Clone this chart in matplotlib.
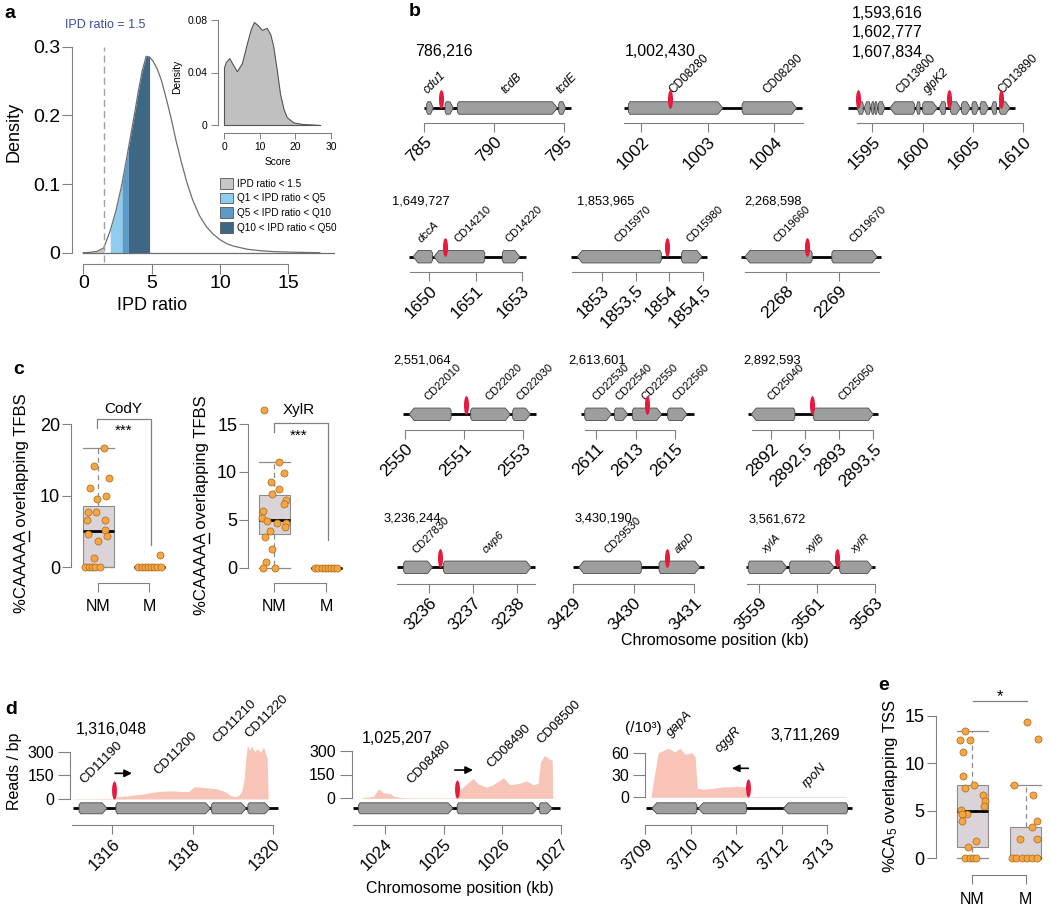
import numpy as np
import matplotlib
matplotlib.use("Agg")
import matplotlib.pyplot as plt
from matplotlib.patches import Polygon, Patch
from matplotlib.lines import Line2D
from matplotlib.path import Path

plt.rcParams['font.family'] = ['Liberation Sans', 'DejaVu Sans']
plt.rcParams['mathtext.fontset'] = 'custom'
plt.rcParams['mathtext.rm'] = 'Liberation Sans'
plt.rcParams['mathtext.it'] = 'Liberation Sans:italic'

# ---------------- panel a: IPD ratio density ----------------
ipd_x = [0, 0.5, 1.0, 1.5, 1.97, 2.4, 2.83, 3.3, 3.7, 4.0, 4.3, 4.6, 4.85, 5.1, 5.4, 5.7,
         6.0, 6.4, 6.8, 7.2, 7.6, 8.0, 8.5, 9.0, 9.5, 10.0, 10.5, 11.0, 12.0, 13.0, 14.0, 15.5, 17.3]
ipd_d = [0, 0.0005, 0.002, 0.007, 0.032, 0.062, 0.100, 0.152, 0.197, 0.232, 0.264, 0.286, 0.285,
         0.279, 0.268, 0.252, 0.230, 0.198, 0.162, 0.130, 0.101, 0.077, 0.054, 0.038, 0.027, 0.019,
         0.013, 0.0095, 0.005, 0.0028, 0.0015, 0.0006, 0]
ipd_cut = 1.5
q_bounds = [1.97, 2.83, 3.3, 4.85]
score_x = [0, 0.5, 1.5, 2.5, 3.6, 5.0, 6.4, 7.5, 8.4, 9.5, 10.6, 12.0, 13.0, 13.8, 14.8, 15.7,
           16.7, 17.6, 19.4, 22.0, 27.0]
score_d = [0.044, 0.048, 0.051, 0.046, 0.041, 0.047, 0.062, 0.073, 0.0785, 0.076, 0.0725, 0.074,
           0.069, 0.060, 0.042, 0.024, 0.012, 0.006, 0.002, 0.0008, 0]
a_legend = ['IPD ratio < 1.5', 'Q1 < IPD ratio < Q5', 'Q5 < IPD ratio < Q10', 'Q10 < IPD ratio < Q50']

# ---------------- panel b: gene tracks ----------------
b_titles = ['786,216', '1,002,430', '1,593,616\n1,602,777\n1,607,834',
            '1,649,727', '1,853,965', '2,268,598',
            '2,551,064', '2,613,601', '2,892,593',
            '3,236,244', '3,430,190', '3,561,672']
b_ticks = [[785, 790, 795], [1002, 1003, 1004], [1595, 1600, 1605, 1610],
           [1650, 1651, 1652], [1853, 1853.5, 1854, 1854.5], [2268, 2269],
           [2550, 2551, 2552], [2611, 2613, 2615], [2892, 2892.5, 2893, 2893.5],
           [3236, 3237, 3238], [3429, 3430, 3431], [3559, 3561, 3563]]
b_ticklabels = [['785', '790', '795'], ['1002', '1003', '1004'], ['1595', '1600', '1605', '1610'],
                ['1650', '1651', '1653'], ['1853', '1853,5', '1854', '1854,5'], ['2268', '2269'],
                ['2550', '2551', '2553'], ['2611', '2613', '2615'], ['2892', '2892,5', '2893', '2893,5'],
                ['3236', '3237', '3238'], ['3429', '3430', '3431'], ['3559', '3561', '3563']]
b_genes = [
    [(785.17, 785.64), (786.48, 787.07), (787.36, 794.50), (794.60, 795.10)],
    [(1001.81, 1003.23), (1003.52, 1004.34)],
    [(1593.47, 1594.10), (1594.19, 1594.78), (1594.87, 1595.17), (1595.26, 1595.53), (1595.59, 1596.25),
     (1596.74, 1599.19), (1599.35, 1599.74), (1600.00, 1601.47), (1601.64, 1602.29), (1602.78, 1603.76),
     (1603.86, 1604.74), (1604.90, 1605.56), (1605.72, 1606.54), (1606.80, 1607.35), (1607.62, 1608.67)],
    [(1649.65, 1650.07), (1650.10, 1651.20), (1651.58, 1651.96)],
    [(1852.64, 1853.88), (1854.18, 1854.48)],
    [(2267.23, 2268.49), (2268.86, 2269.71)],
    [(2550.07, 2550.78), (2551.11, 2551.78), (2551.82, 2552.12)],
    [(2610.43, 2611.78), (2611.93, 2612.61), (2612.84, 2614.33), (2614.63, 2615.61)],
    [(2891.71, 2892.35), (2892.62, 2893.50)],
    [(3235.42, 3236.08), (3236.33, 3238.33)],
    [(3429.10, 3430.13), (3430.42, 3431.09)],
    [(3558.62, 3559.95), (3560.04, 3561.59), (3561.78, 3562.91)],
]
b_strands = [[1, 1, 1, 1], [1, 1], [-1, -1, -1, 1, 1, -1, -1, 1, -1, 1, 1, 1, 1, -1, 1],
             [-1, -1, 1], [-1, 1], [-1, 1], [-1, 1, 1], [1, 1, 1, 1], [-1, 1], [1, 1], [-1, 1], [1, 1, 1]]
b_names = [['cdu1', '', 'tcdB', 'tcdE'], ['CD08280', 'CD08290'],
           ['', '', '', '', '', 'CD13800', '', 'glpK2', '', '', '', '', '', '', 'CD13890'],
           ['dccA', 'CD14210', 'CD14220'], ['CD15970', 'CD15980'], ['CD19660', 'CD19670'],
           ['CD22010', 'CD22020', 'CD22030'], ['CD22530', 'CD22540', 'CD22550', 'CD22560'],
           ['CD25040', 'CD25050'], ['CD27830', 'cwp6'], ['CD29530', 'atpD'], ['xylA', 'xylB', 'xylR']]
b_marks = [[786.22], [1002.43], [1593.6, 1602.6, 1607.75], [1650.35], [1853.97], [2268.40],
           [2551.03], [2613.58], [2892.60], [3236.24], [3430.55], [3561.68]]
b_backbone = [(785.0, 795.5), (1001.75, 1004.42), (1592.6, 1609.2), (1649.57, 1652.1),
              (1852.55, 1854.55), (2267.16, 2269.79), (2549.97, 2552.22), (2610.25, 2615.97),
              (2891.67, 2893.57), (3235.28, 3238.42), (3429.0, 3431.16), (3558.53, 3563.0)]
b_axis = [(785, 795), (1001.75, 1004.44), (1593.47, 1610), (1649.59, 1652), (1852.56, 1854.5),
          (2267.24, 2269.74), (2550, 2552), (2610.43, 2615), (2891.72, 2893.5),
          (3235.28, 3238.42), (3429, 3431), (3558.56, 3563)]

# ---------------- panel c: TFBS overlap ----------------
c_groups = ['NM', 'M']
cody_q1, cody_med, cody_q3, cody_lo, cody_hi = [0, 0], [5.0, 0], [8.55, 0], [0, 0], [16.7, 0]
cody_nm = [16.7, 14.2, 12.5, 11.0, 10.0, 9.5, 7.7, 7.7, 6.6, 6.6, 5.2, 4.7, 4.3, 3.7, 1.3, 0, 0, 0, 0, 0]
cody_nm_jit = [0.11, -0.08, 0.21, -0.17, 0.15, -0.02, -0.21, -0.05, -0.22, 0.13, 0.13, -0.21, 0.17,
               0.0, -0.08, -0.26, -0.19, -0.13, -0.06, 0.03]
cody_m = [1.7, 0, 0, 0, 0, 0, 0, 0, 0]
cody_m_jit = [0.2, -0.22, -0.15, -0.09, -0.03, 0.03, 0.09, 0.15, 0.22]
xylr_q1, xylr_med, xylr_q3, xylr_lo, xylr_hi = [3.5, 0], [5.0, 0], [7.6, 0], [0, 0], [11.0, 0]
xylr_nm = [16.5, 11.0, 9.9, 8.9, 8.2, 7.7, 7.1, 6.6, 5.9, 5.2, 4.9, 4.7, 4.7, 4.3, 3.8, 3.2, 1.9, 0.6, 0, 0]
xylr_nm_jit = [-0.2, 0.09, 0.18, -0.07, 0.09, -0.05, 0.23, 0.18, -0.22, -0.24, -0.14, 0.05, 0.23,
               0.21, -0.09, -0.18, -0.05, -0.16, -0.21, 0.02]
xylr_m = [0, 0, 0, 0, 0, 0, 0, 0]
xylr_m_jit = [-0.21, -0.15, -0.09, -0.03, 0.03, 0.09, 0.15, 0.21]

# ---------------- panel d: RNA-seq coverage ----------------
d_titles = ['1,316,048', '1,025,207', '3,711,269']
d1_cov_x = [1315.03, 1315.5, 1316.0, 1316.05, 1316.1, 1316.3, 1316.5, 1316.7, 1316.9, 1317.1, 1317.3,
            1317.5, 1317.7, 1317.9, 1318.05, 1318.2, 1318.4, 1318.6, 1318.8, 1318.95, 1319.05, 1319.15,
            1319.22, 1319.28, 1319.33, 1319.37, 1319.42, 1319.48, 1319.55, 1319.62, 1319.7, 1319.77,
            1319.82, 1319.86, 1319.89]
d1_cov_y = [2, 3, 4, 12, 15, 17, 24, 30, 38, 46, 50, 52, 48, 47, 78, 75, 70, 65, 48, 22, 14, 22, 45,
            110, 260, 340, 310, 335, 300, 320, 295, 330, 290, 260, 0]
d2_cov_x = [1023.6, 1023.8, 1023.89, 1023.97, 1024.09, 1024.14, 1024.26, 1024.43, 1024.8, 1025.2,
            1025.22, 1025.28, 1025.39, 1025.5, 1025.59, 1025.73, 1025.84, 1026.02, 1026.13, 1026.3,
            1026.41, 1026.53, 1026.61, 1026.65, 1026.72, 1026.81, 1026.85, 1026.86]
d2_cov_y = [5, 12, 60, 35, 30, 15, 5, 3, 3, 3, 20, 55, 90, 125, 90, 70, 85, 130, 85, 95, 110, 85, 95,
            230, 270, 245, 240, 0]
d3_cov_x = [3709.13, 3709.18, 3709.29, 3709.37, 3709.51, 3709.66, 3709.77, 3709.88, 3710.03, 3710.10,
            3710.15, 3710.28, 3710.5, 3710.72, 3710.87, 3711.01, 3711.16, 3711.23, 3711.25, 3713.4, 3713.42]
d3_cov_y = [0, 20, 60, 62, 66, 61, 66, 58, 60, 55, 12, 11, 12, 14, 14, 15, 14, 14, 0.8, 0.8, 0]
d_cov_x = [d1_cov_x, d2_cov_x, d3_cov_x]
d_cov_y = [d1_cov_y, d2_cov_y, d3_cov_y]
d_genes = [[(1315.17, 1315.87), (1316.09, 1318.45), (1318.47, 1319.34), (1319.38, 1319.93)],
           [(1023.55, 1025.16), (1025.23, 1026.60), (1026.63, 1026.85)],
           [(3709.15, 3710.14), (3710.17, 3711.23), (3712.04, 3713.45)]]
d_strands = [[1, 1, 1, 1], [1, 1, 1], [-1, -1, -1]]
d_names = [['CD11190', 'CD11200', 'CD11210', 'CD11220'], ['CD08480', 'CD08490', 'CD08500'],
           ['gapA', 'cggR', 'rpoN']]
d_label_xy = [[(1315.35, 82), (1317.2, 141), (1318.67, 342), (1319.46, 374)],
              [(1024.48, 75), (1025.85, 180), (1026.7, 330)],
              [(3709.62, 79), (3710.68, 57), (3712.6, 10)]]
d_marks = [[1316.05], [1025.22], [3711.27]]
d_arrows = [(1316.07, 1316.49, 163), (1025.19, 1025.50, 178), (3711.27, 3710.91, 39)]
d_backbone = [(1315.03, 1320.12), (1023.45, 1026.98), (3709.02, 3713.55)]
d_axis = [(1315.0, 1320), (1023.45, 1027), (3709, 3713)]
d_ticks = [[1316, 1318, 1320], [1024, 1025, 1026, 1027], [3709, 3710, 3711, 3712, 3713]]
d_yticks = [[0, 150, 300], [0, 150, 300], [0, 30, 60]]

# ---------------- panel e: TSS overlap ----------------
tss_q1, tss_med, tss_q3, tss_lo, tss_hi = [1.22, 0], [5.0, 0], [7.7, 3.26], [0, 0], [13.4, 7.7]
tss_nm = [13.4, 12.5, 12.5, 11.2, 8.7, 7.7, 7.4, 6.7, 6.0, 5.5, 5.1, 4.7, 4.7, 3.9, 1.8, 1.2, 0, 0, 0, 0]
tss_nm_jit = [-0.13, -0.22, -0.04, -0.18, -0.18, 0.04, -0.13, 0.21, 0.24, 0.22, -0.21, -0.1, -0.2,
              -0.2, 0.07, -0.08, -0.13, -0.04, 0.02, 0.08]
tss_m = [14.4, 12.6, 7.7, 6.7, 3.9, 3.3, 2.0, 2.0, 0, 0, 0, 0, 0, 0]
tss_m_jit = [0.03, 0.23, -0.21, 0.15, 0.21, 0.13, -0.1, 0.21, -0.26, -0.17, -0.07, 0.02, 0.12, 0.21]

# ---------------- styling ----------------
AX_GREY = '#808080'
GENE_FC = '#9c9f9e'
GENE_EC = '#4a4a4a'
RED = '#e8193c'
COV = '#f8c4b8'
BOX_FC = '#dad4d9'
BOX_EC = '#8c8c8c'
DOT_FC = '#f5a541'
DOT_EC = '#a86a1f'
A_COLS = ['#c6c6c6', '#8fcdee', '#5b9bc9', '#3e6784']

W, H = 1050, 909
fig = plt.figure(figsize=(W / 100, H / 100), dpi=100)

_u = Path.unit_circle()
MARK = Path(_u.vertices * [0.27, 1.0], _u.codes)


def add_px(x0, y0, x1, y1):
    ax = fig.add_axes([x0 / W, 1 - y1 / H, (x1 - x0) / W, (y1 - y0) / H])
    ax.patch.set_alpha(0)
    return ax


def place(box, xref, yref):
    # put an axes on a pixel box so that reference values land on reference pixels
    x0, y0, x1, y1 = box
    ax = add_px(x0, y0, x1, y1)
    (xa, pxa), (xb, pxb) = xref
    sx = (pxb - pxa) / (xb - xa)
    ax.set_xlim(xa + (x0 - pxa) / sx, xa + (x1 - pxa) / sx)
    (ya, pya), (yb, pyb) = yref
    sy = (pyb - pya) / (yb - ya)
    ax.set_ylim(ya + (y1 - pya) / sy, ya + (y0 - pya) / sy)
    return ax, sx, sy


def ftext(x, y, s, **kw):
    kw.setdefault('va', 'center')
    return fig.text(x / W, 1 - y / H, s, **kw)


def underline_last_char(txt, prefix, ch):
    # underline one character of a 90-degree rotated figure text
    fig.canvas.draw()
    r = fig.canvas.get_renderer()
    bb = txt.get_window_extent(r)
    fp = txt.get_fontproperties()
    w0, _, _ = r.get_text_width_height_descent(prefix, fp, ismath=False)
    w1, _, d = r.get_text_width_height_descent(prefix + ch, fp, ismath=False)
    x = bb.x1 - d * 0.55
    fig.add_artist(Line2D([x / W, x / W], [(bb.y0 + w0 + 0.5) / H, (bb.y0 + w1 - 0.5) / H],
                          transform=fig.transFigure, color='black', lw=1.0))


def draw_track(ax, genes, strands, names, backbone, marks, ppk, yc, h, mark_y, mark_ms,
               label_xy=None, label_y=None, fs=8):
    ax.plot(backbone, [yc, yc], color='black', lw=2, zorder=1, solid_capstyle='butt')
    tip = 5 / ppk
    bev = 1.5 / ppk
    for k, ((x0, x1), s, nm) in enumerate(zip(genes, strands, names)):
        t = min(tip, 0.4 * (x1 - x0))
        b = min(bev, 0.15 * (x1 - x0))
        if s > 0:
            pts = [(x0, yc - 0.3 * h), (x0 + b, yc - h / 2), (x1 - t, yc - h / 2), (x1, yc),
                   (x1 - t, yc + h / 2), (x0 + b, yc + h / 2), (x0, yc + 0.3 * h)]
        else:
            pts = [(x1, yc - 0.3 * h), (x1 - b, yc - h / 2), (x0 + t, yc - h / 2), (x0, yc),
                   (x0 + t, yc + h / 2), (x1 - b, yc + h / 2), (x1, yc + 0.3 * h)]
        ax.add_patch(Polygon(pts, closed=True, fc=GENE_FC, ec=GENE_EC, lw=0.6, zorder=2, clip_on=False))
        if nm:
            lx, ly = label_xy[k] if label_xy else ((x0 + x1) / 2, label_y)
            ax.text(lx, ly, nm, rotation=45, rotation_mode='anchor', ha='left', va='bottom',
                    fontsize=fs, style='normal' if nm.startswith('CD') else 'italic')
    ax.plot(marks, [mark_y] * len(marks), ls='none', marker=MARK, ms=mark_ms, color=RED,
            mec='none', zorder=3, clip_on=False)


def rotate_xlabels(ax):
    for lb in ax.get_xticklabels():
        lb.set_rotation(45)
        lb.set_ha('right')
        lb.set_va('top')
        lb.set_rotation_mode('anchor')


def track_xaxis(ax, ticks, labels, bounds, fs):
    for sp in ['left', 'top', 'right']:
        ax.spines[sp].set_visible(False)
    ax.spines['bottom'].set_bounds(*bounds)
    ax.spines['bottom'].set_color(AX_GREY)
    ax.spines['bottom'].set_linewidth(0.8)
    ax.set_yticks([])
    ax.set_xticks(ticks, labels)
    ax.tick_params(axis='x', direction='out', length=6.5, width=0.8, color=AX_GREY,
                   labelsize=fs, pad=1.5)
    rotate_xlabels(ax)


def r_spines(ax, left_bounds, bottom_bounds):
    for sp in ['top', 'right']:
        ax.spines[sp].set_visible(False)
    ax.spines['left'].set_bounds(*left_bounds)
    ax.spines['bottom'].set_bounds(*bottom_bounds)
    for sp in ['left', 'bottom']:
        ax.spines[sp].set_color(AX_GREY)
        ax.spines[sp].set_linewidth(0.8)


# ================= panel a =================
ax, sx, sy = place((71.7, 20, 335, 264.3), ((0, 83.3), (15, 288.3)), ((0, 252.7), (0.3, 46.7)))
ix = np.array(ipd_x)
idd = np.array(ipd_d)
ax.fill_between(ix, idd, where=ix <= ipd_cut, color=A_COLS[0], lw=0)
for k in range(3):
    m = (ix >= q_bounds[k]) & (ix <= q_bounds[k + 1])
    ax.fill_between(ix, idd, where=m, color=A_COLS[k + 1], lw=0)
ax.plot(ix, idd, color='#6e6e6e', lw=0.9)
ax.plot([0, ax.get_xlim()[1]], [0, 0], color='#6e6e6e', lw=0.9)
ax.plot([ipd_cut, ipd_cut], [-0.014, 0.3], color='#a0a0a0', lw=1.0, ls=(0, (5, 3)), clip_on=False)
r_spines(ax, (0, 0.3), (0, 15))
ax.set_yticks([0, 0.1, 0.2, 0.3], ['0', '0.1', '0.2', '0.3'])
ax.set_xticks([0, 5, 10, 15])
ax.tick_params(axis='both', direction='out', length=7, width=0.8, color=AX_GREY, labelsize=14, pad=1)
ax.legend(handles=[Patch(fc=c, ec='#555555', lw=0.6, label=l) for c, l in zip(A_COLS, a_legend)],
          loc='upper left', bbox_to_anchor=(220 / W, 1 - 177.8 / H), bbox_transform=fig.transFigure,
          frameon=False, fontsize=7.2, handlelength=1.3, handleheight=1.3, handletextpad=0.4,
          labelspacing=0.38, borderpad=0, borderaxespad=0)
ftext(14, 132, 'Density', fontsize=13, rotation=90, ha='center')
ftext(152, 305, 'IPD ratio', fontsize=13, ha='center')
ftext(105, 25, 'IPD ratio = 1.5', fontsize=9, color='#3b4ba0', ha='center')

# inset
ax, sx, sy = place((218.3, 10, 335, 133.3), ((0, 224), (30, 331)), ((0, 125), (0.08, 20)))
ax.fill_between(score_x, score_d, color='#c0c0c0', ec='#555555', lw=0.8)
r_spines(ax, (0, 0.08), (0, 30))
ax.set_yticks([0, 0.04, 0.08], ['0', '0.04', '0.08'])
ax.set_xticks([0, 10, 20, 30])
ax.tick_params(axis='y', direction='out', length=5, width=0.7, color=AX_GREY, labelsize=7.4, pad=3)
ax.tick_params(axis='x', direction='out', length=4.5, width=0.7, color=AX_GREY, labelsize=7.4, pad=2)
ftext(176.7, 76.7, 'Density', fontsize=7.4, rotation=90, ha='center')
ftext(278.3, 162.3, 'Score', fontsize=7.4, ha='center')

# ================= panel b =================
b_ref = [((785, 424.3), (795, 564.3)), ((1002, 641), (1004, 774)), ((1595, 872.3), (1610, 1023.3)),
         ((1650, 429.3), (1652, 521.7)), ((1853, 601.7), (1854.5, 703.3)), ((2268, 786), (2269, 839.3)),
         ((2550, 405), (2552, 523.3)), ((2611, 596), (2615, 675)), ((2892, 771), (2893.5, 873.3)),
         ((3236, 429), (3238, 516.7)), ((3429, 572.7), (3431, 694.3)), ((3559, 759.3), (3563, 875))]
b_row_y = [(108, 122.7), (256.7, 271.7), (414.3, 430), (567.3, 584.3)]
b_title_fs = [11.5, 9.3, 9.3, 9.3]
b_label_fs = [8.6, 8.0, 8.0, 8.0]
b_title_xy = [(415, 52), (625, 52), (851.7, 13.3), (392, 201.7), (577, 202), (744, 202),
              (393, 360.7), (568.3, 360.7), (743.3, 360.7), (383.3, 518.3), (575, 518.3), (748.3, 520)]
for i in range(12):
    row = i // 3
    gy, ay = b_row_y[row]
    (ka, pa), (kb2, pb) = b_ref[i]
    s = (pb - pa) / (kb2 - ka)
    lo = min(b_backbone[i][0], b_axis[i][0]) - 3 / s
    hi = max(b_backbone[i][1], b_axis[i][1]) + 3 / s
    x0 = pa + (lo - ka) * s
    x1 = pa + (hi - ka) * s
    ax, sx, sy = place((x0, gy - 50, x1, ay), b_ref[i], ((0, gy), (1, gy - 12.5)))
    draw_track(ax, b_genes[i], b_strands[i], b_names[i], b_backbone[i], b_marks[i], s,
               yc=0, h=1, mark_y=0.76, mark_ms=13.5, label_y=0.95, fs=b_label_fs[row])
    track_xaxis(ax, b_ticks[i], b_ticklabels[i], b_axis[i], 12.5)
    tx, ty = b_title_xy[i]
    for k, line in enumerate(b_titles[i].split('\n')):
        ftext(tx, ty + 19.4 * k, line, fontsize=b_title_fs[row], ha='left')
ftext(715, 640, 'Chromosome position (kb)', fontsize=11.5, ha='center')

# ================= panel c =================
def box_panel(ax, q1, med, q3, lo, hi, pts, jits, width=0.6):
    stats = [dict(q1=q1[i], med=med[i], q3=q3[i], whislo=lo[i], whishi=hi[i], fliers=[])
             for i in range(2)]
    ax.bxp(stats, positions=[1, 2], widths=width, capwidths=width, patch_artist=True,
           showfliers=False, manage_ticks=False,
           boxprops=dict(facecolor=BOX_FC, edgecolor=BOX_EC, linewidth=0.8),
           medianprops=dict(color='black', linewidth=2),
           whiskerprops=dict(color=BOX_EC, linewidth=0.9, linestyle=(0, (4, 3))),
           capprops=dict(color=BOX_EC, linewidth=0.9))
    for i, (v, j) in enumerate(zip(pts, jits)):
        ax.scatter(i + 1 + np.array(j), v, s=26, c=DOT_FC, edgecolors=DOT_EC, linewidths=0.5,
                   zorder=3, clip_on=False)


# CodY
ax, sx, sy = place((71, 400, 175, 583.3), ((1, 98.3), (2, 149.3)), ((0, 567.3), (20, 424)))
box_panel(ax, cody_q1, cody_med, cody_q3, cody_lo, cody_hi, [cody_nm, cody_m], [cody_nm_jit, cody_m_jit])
r_spines(ax, (0, 20), (1, 2))
ax.set_yticks([0, 10, 20])
ax.set_xticks([1, 2], c_groups)
ax.tick_params(axis='y', direction='out', length=6.5, width=0.8, color=AX_GREY, labelsize=13, pad=1.5)
ax.tick_params(axis='x', direction='out', length=6.5, width=0.8, color=AX_GREY, labelsize=11.5, pad=5)
ax.plot([0.97, 0.97, 2.03, 2.03], [19.4, 20.65, 20.65, 3.1], color=AX_GREY, lw=0.9, clip_on=False)
ax.text(1.5, 19.0, '***', ha='center', va='center', fontsize=11)
ftext(123.3, 409, 'CodY', fontsize=11, ha='center')
t1 = ftext(21.7, 503, '%CAAAAA overlapping TFBS', fontsize=12, rotation=90, ha='center')

# XylR
ax, sx, sy = place((248.3, 400, 345, 583.3), ((1, 274.2), (2, 326.2)), ((0, 567.7), (15, 424)))
box_panel(ax, xylr_q1, xylr_med, xylr_q3, xylr_lo, xylr_hi, [xylr_nm, xylr_m], [xylr_nm_jit, xylr_m_jit])
r_spines(ax, (0, 15), (1, 2))
ax.set_yticks([0, 5, 10, 15])
ax.set_xticks([1, 2], c_groups)
ax.tick_params(axis='y', direction='out', length=6.5, width=0.8, color=AX_GREY, labelsize=13, pad=1.5)
ax.tick_params(axis='x', direction='out', length=6.5, width=0.8, color=AX_GREY, labelsize=11.5, pad=5)
ax.plot([1.0, 1.0, 2.04, 2.04], [14.2, 15.07, 15.07, 2.9], color=AX_GREY, lw=0.9, clip_on=False)
ax.text(1.46, 13.8, '***', ha='center', va='center', fontsize=11)
ftext(299, 410, 'XylR', fontsize=11, ha='center')
t2 = ftext(201.7, 505, '%CAAAAA overlapping TFBS', fontsize=12, rotation=90, ha='center')

# ================= panel d =================
d_ref = [((1316, 112.3), (1320, 272.7)), ((1024, 385), (1027, 561)), ((3709, 645), (3713, 827))]
d_yref = [((0, 799), (300, 751.7)), ((0, 798.3), (300, 750.7)), ((0, 797.3), (60, 752.7))]
d_xpx = [(70.2, 282), (351.7, 570), (645, 860)]
for i in range(3):
    ax, sx, sy = place((d_xpx[i][0], 700, d_xpx[i][1], 825), d_ref[i], d_yref[i])
    ax.fill_between(d_cov_x[i], d_cov_y[i], 0, color=COV, lw=0, zorder=1)
    y0px = d_yref[i][0][1]
    gc = (808.3 - y0px) / sy
    gh = 11 / abs(sy)
    draw_track(ax, d_genes[i], d_strands[i], d_names[i], d_backbone[i], d_marks[i], sx,
               yc=gc, h=gh, mark_y=9 / abs(sy), mark_ms=13, label_xy=d_label_xy[i], fs=9.5)
    tail, head, ay_ = d_arrows[i]
    ax.annotate('', xy=(head, ay_), xytext=(tail, ay_),
                arrowprops=dict(arrowstyle='-|>', color='black', lw=1.2, mutation_scale=11,
                                shrinkA=0, shrinkB=0))
    r_spines(ax, (0, d_yticks[i][-1]), d_axis[i])
    ax.set_yticks(d_yticks[i])
    ax.set_xticks(d_ticks[i])
    ax.tick_params(axis='y', direction='out', length=8.5, width=0.8, color=AX_GREY, labelsize=11.5, pad=3)
    ax.tick_params(axis='x', direction='out', length=6.5, width=0.8, color=AX_GREY, labelsize=12, pad=1.5)
    rotate_xlabels(ax)
ftext(76, 729.3, d_titles[0], fontsize=11.5, ha='left')
ftext(361.7, 738.3, d_titles[1], fontsize=11.5, ha='left')
ftext(770, 735.7, d_titles[2], fontsize=11.5, ha='left')
ftext(625, 728.3, '(/10³)', fontsize=11, ha='left')
ftext(15, 771, 'Reads / bp', fontsize=11.5, rotation=90, ha='center')
ftext(460, 888.3, 'Chromosome position (kb)', fontsize=11.5, ha='center')

# ================= panel e =================
ax, sx, sy = place((935.7, 690, 1048, 875), ((1, 972.2), (2, 1025.5)), ((0, 858.3), (15, 716)))
box_panel(ax, tss_q1, tss_med, tss_q3, tss_lo, tss_hi, [tss_nm, tss_m], [tss_nm_jit, tss_m_jit], 0.58)
r_spines(ax, (0, 15), (1, 2))
ax.set_yticks([0, 5, 10, 15])
ax.set_xticks([1, 2], c_groups)
ax.tick_params(axis='y', direction='out', length=6.5, width=0.8, color=AX_GREY, labelsize=13, pad=1.5)
ax.tick_params(axis='x', direction='out', length=6.5, width=0.8, color=AX_GREY, labelsize=11.5, pad=5.5)
ax.plot([1.02, 2.02], [16.6, 16.6], color=AX_GREY, lw=0.9, clip_on=False)
ax.text(1.52, 17.0, '*', ha='center', va='center', fontsize=12)
ftext(890, 786, '%CA$_5$ overlapping TSS', fontsize=12, rotation=90, ha='center')

# panel letters
for lt, (x, y) in zip('abcde', [(10, 13), (415, 12), (19, 370), (11, 709), (884, 686)]):
    ftext(x, y, lt, fontsize=14, fontweight='bold', ha='center')

# underline the last A of CAAAAA in both panel c labels
underline_last_char(t1, '%CAAAA', 'A')
underline_last_char(t2, '%CAAAA', 'A')

fig.savefig('out.png', dpi=100)
